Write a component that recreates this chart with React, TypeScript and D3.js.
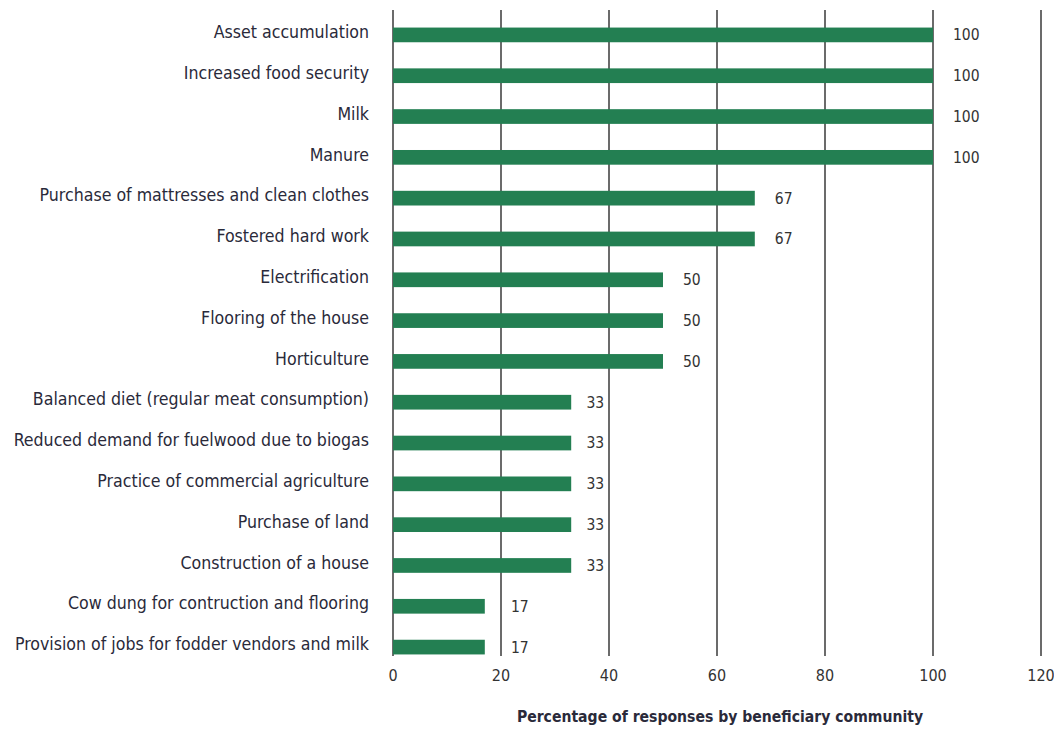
import React from "react";
import * as d3 from "d3";

const categories = [
  "Asset accumulation",
  "Increased food security",
  "Milk",
  "Manure",
  "Purchase of mattresses and clean clothes",
  "Fostered hard work",
  "Electrification",
  "Flooring of the house",
  "Horticulture",
  "Balanced diet (regular meat consumption)",
  "Reduced demand for fuelwood due to biogas",
  "Practice of commercial agriculture",
  "Purchase of land",
  "Construction of a house",
  "Cow dung for contruction and flooring",
  "Provision of jobs for fodder vendors and milk",
];
const values = [100, 100, 100, 100, 67, 67, 50, 50, 50, 33, 33, 33, 33, 33, 17, 17];
const xTicks = [0, 20, 40, 60, 80, 100, 120];
const axisTitle = "Percentage of responses by beneficiary community";

const W = 1054;
const H = 729;
const FONT = "'DejaVu Sans Condensed', 'DejaVu Sans', sans-serif";

export default function App() {
  const x = d3.scaleLinear().domain([0, 120]).range([393, 1041]);
  const y = d3
    .scaleBand()
    .domain(categories)
    .range([14.5, 667.5])
    .paddingInner(0.64)
    .paddingOuter(0.32);
  const gridTop = 10;
  const gridBottom = 656;

  // place value labels to the right of bars, avoiding gridlines
  const labelX = (v: number) => {
    const w = String(v).length * 9.3;
    let lx = x(v) + 20;
    for (const t of xTicks) {
      const gx = x(t);
      if (gx >= lx - 4 && gx <= lx + w + 3) {
        if (gx - lx < w / 2) lx = gx + 10;
        else lx = gx - w - 4;
      }
    }
    return lx;
  };

  return (
    <svg
      width={W}
      height={H}
      style={{ position: "absolute", left: 0, top: 0, background: "#fff" }}
    >
      {xTicks.map((t) => (
        <line
          key={"g" + t}
          x1={x(t)}
          x2={x(t)}
          y1={gridTop}
          y2={gridBottom}
          stroke="#3a3a3a"
          strokeWidth={1.5}
        />
      ))}
      {categories.map((c, i) => (
        <g key={c}>
          <rect
            x={x(0)}
            y={y(c)}
            width={x(values[i]) - x(0)}
            height={y.bandwidth()}
            fill="#237f52"
          />
          <text
            x={369}
            y={(y(c) as number) + y.bandwidth() / 2 - 3}
            dy="0.35em"
            textAnchor="end"
            fontFamily={FONT}
            fontSize={17.6}
            fill="#2a2a3a"
          >
            {c}
          </text>
          <text
            x={labelX(values[i])}
            y={(y(c) as number) + y.bandwidth() / 2}
            dy="0.35em"
            textAnchor="start"
            fontFamily={FONT}
            fontSize={15.5}
            fill="#333"
          >
            {values[i]}
          </text>
        </g>
      ))}
      {xTicks.map((t) => (
        <text
          key={"t" + t}
          x={x(t)}
          y={675}
          dy="0.35em"
          textAnchor="middle"
          fontFamily={FONT}
          fontSize={16}
          fill="#333"
        >
          {t}
        </text>
      ))}
      <text
        x={720}
        y={717}
        dy="0.35em"
        textAnchor="middle"
        fontFamily={FONT}
        fontSize={15.6}
        fontWeight="bold"
        fill="#2a2a3a"
      >
        {axisTitle}
      </text>
    </svg>
  );
}
